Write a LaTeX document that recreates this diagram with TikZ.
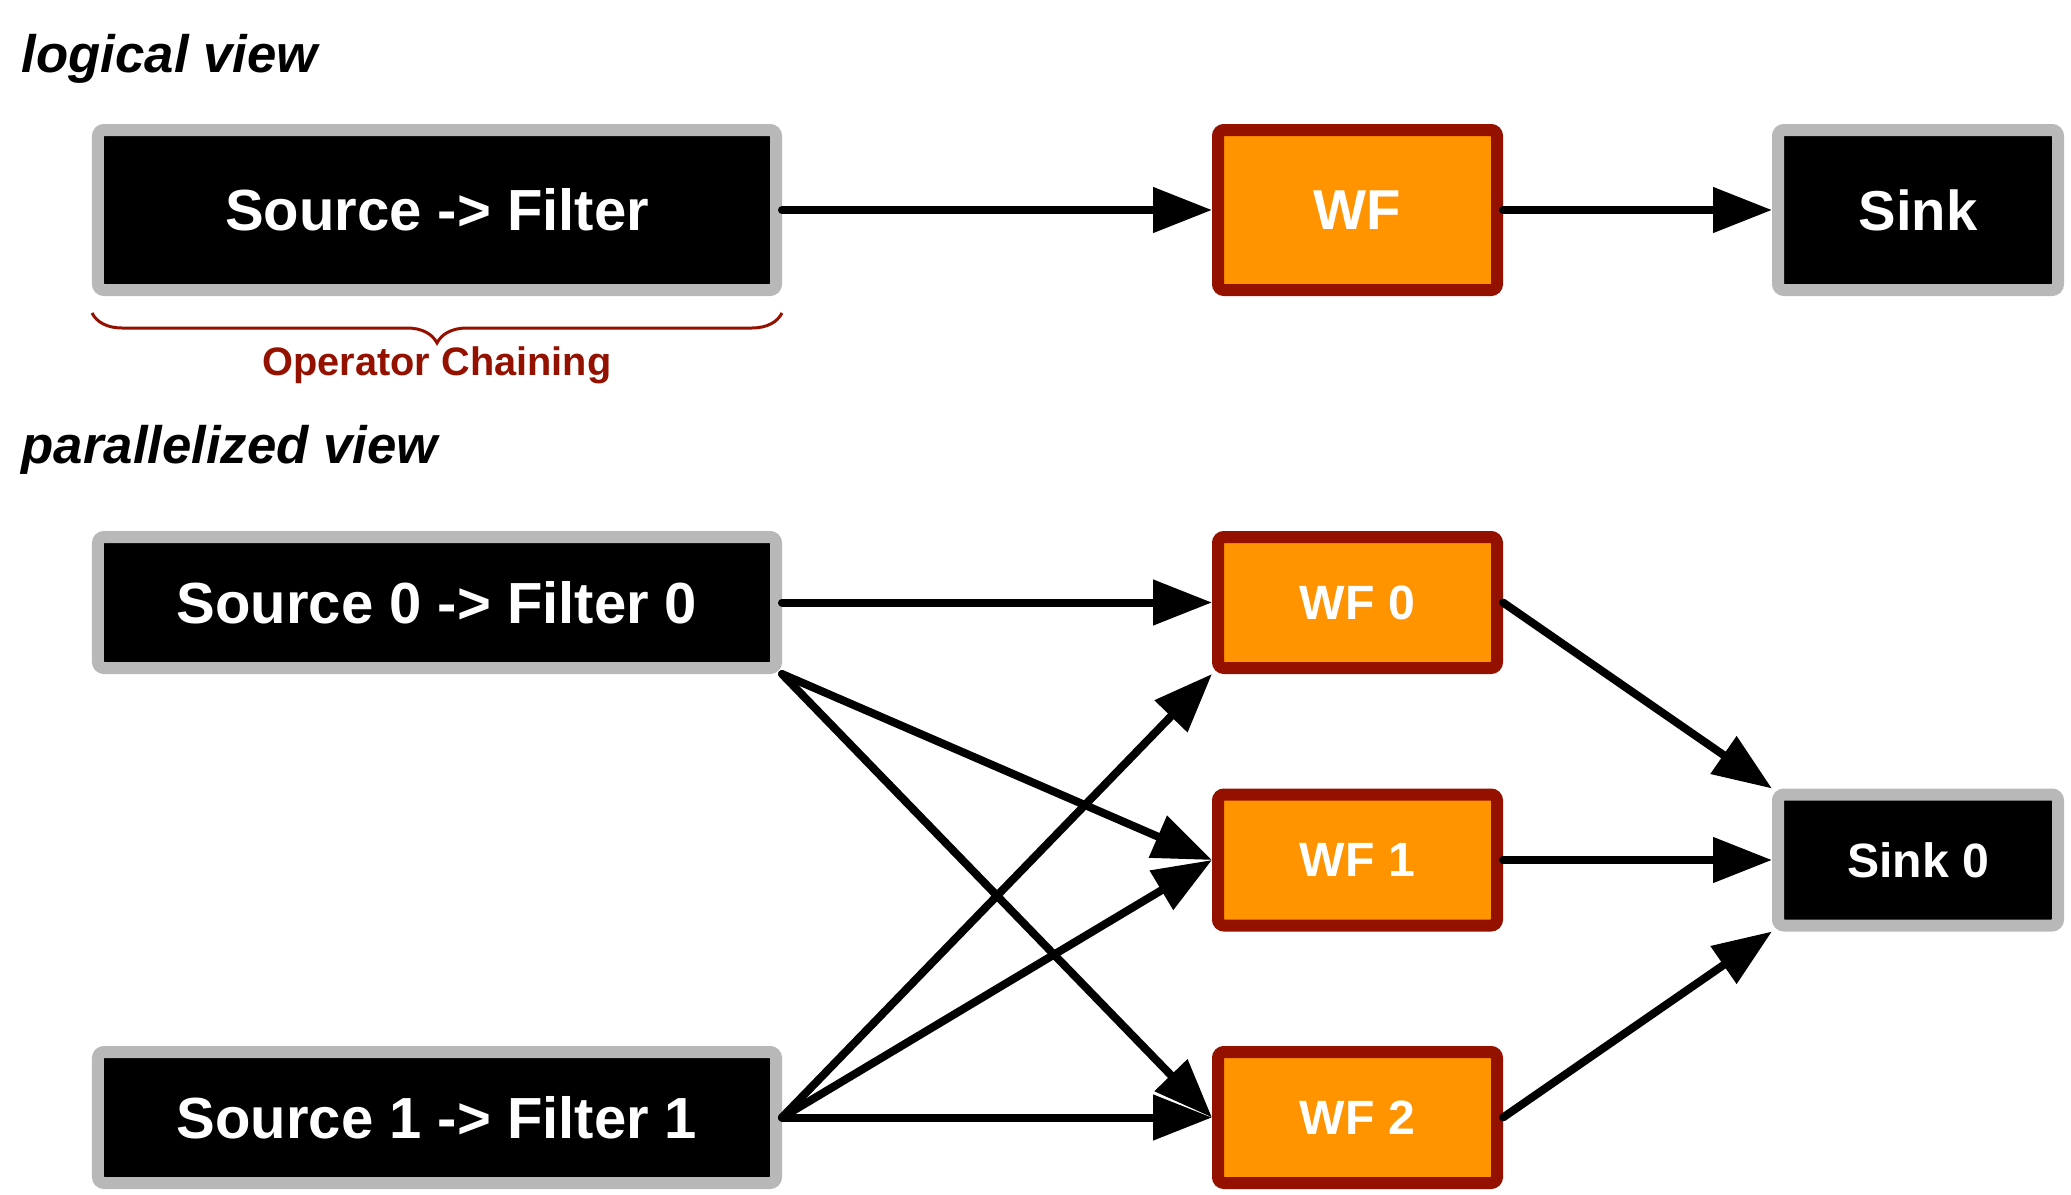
\documentclass[tikz,border=0pt]{standalone}
\usepackage{fontspec}
\setmainfont{Liberation Sans}
\usetikzlibrary{arrows.meta,positioning,calc,decorations.pathreplacing}

\definecolor{chainred}{HTML}{941100}
\definecolor{wforange}{HTML}{FF9300}
\definecolor{boxgray}{HTML}{B8B8B8}

\begin{document}
\begin{tikzpicture}[
    opbox/.style={draw=boxgray,fill=black,line width=1.2mm,rounded corners=0.6mm,text=white,inner sep=0pt,
        font=\bfseries\fontsize{16.5}{20}\selectfont},
    wfbox/.style={draw=chainred,fill=wforange,line width=1.2mm,rounded corners=0.6mm,text=white,inner sep=0pt,
        minimum width=2.79cm,font=\bfseries\fontsize{16}{20}\selectfont},
    para/.style={minimum height=1.31cm,font=\bfseries\fontsize{13.7}{16}\selectfont},
    flow/.style={-{Triangle[length=5.9mm,width=4.4mm]},line width=0.8mm,line cap=round},
    viewtitle/.style={anchor=west,inner sep=0pt,font=\bfseries\itshape\fontsize{15}{18}\selectfont}
]
            \useasboundingbox (0,0) rectangle (20.71,-11.95);

            % Logical view nodes
            \node[viewtitle] (logTitle) at (0.21,-0.59) {logical view};
            \node[opbox,minimum width=6.78cm,minimum height=1.6cm] (src) at (4.37,-2.10) {Source -> Filter};
            \node[wfbox,minimum height=1.6cm] (wf) at (13.575,-2.10) {WF};
            \node[opbox,minimum width=2.80cm,minimum height=1.6cm,font=\bfseries\fontsize{16}{20}\selectfont] (sink) at (19.18,-2.10) {Sink};

            % Logical view arcs
            \draw[flow] (src) -- (wf);
            \draw[flow] (wf) -- (sink);

            % Chaining brace
            \coordinate (braceL) at ($(src.south west)+(0,-0.17)$);
            \coordinate (braceR) at ($(src.south east)+(0,-0.17)$);
            \draw[chainred,line width=0.3mm,decorate,decoration={brace,mirror,amplitude=3mm}] (braceL) -- (braceR);
            \node[text=chainred,font=\bfseries\fontsize{11.3}{14}\selectfont] (chainLabel) at (4.37,-3.65) {Operator Chaining};

            % ================== Parallelized view ==================
            \node[viewtitle] (parTitle) at (0.21,-4.50) {parallelized view};

            % Parallel sources
            \node[opbox,minimum width=6.78cm,minimum height=1.31cm] (src0) at (4.37,-6.025) {Source 0 -> Filter 0};
            \node[opbox,minimum width=6.78cm,minimum height=1.31cm] (src1) at (4.37,-11.175) {Source 1 -> Filter 1};

            % Parallel window functions
            \node[wfbox,para] (wf0) at (13.575,-6.025) {WF 0};
            \node[wfbox,para] (wf1) at (13.575,-8.60) {WF 1};
            \node[wfbox,para] (wf2) at (13.575,-11.175) {WF 2};

            % Parallel sink
            \node[opbox,para,minimum width=2.80cm] (sink0) at (19.18,-8.60) {Sink 0};

            % Arcs from sources to window functions
            \draw[flow] (src0) -- (wf0);
            \draw[flow] (src0.south east) -- (wf1.west);
            \draw[flow] (src0.south east) -- (wf2.west);
            \draw[flow] (src1.east) -- (wf0.south west);
            \draw[flow] (src1.east) -- (wf1.west);
            \draw[flow] (src1.east) -- (wf2.west);

            % Arcs from window functions to sink
            \draw[flow] (wf0.east) -- (sink0.north west);
            \draw[flow] (wf1) -- (sink0);
            \draw[flow] (wf2.east) -- (sink0.south west);

\end{tikzpicture}
\end{document}
